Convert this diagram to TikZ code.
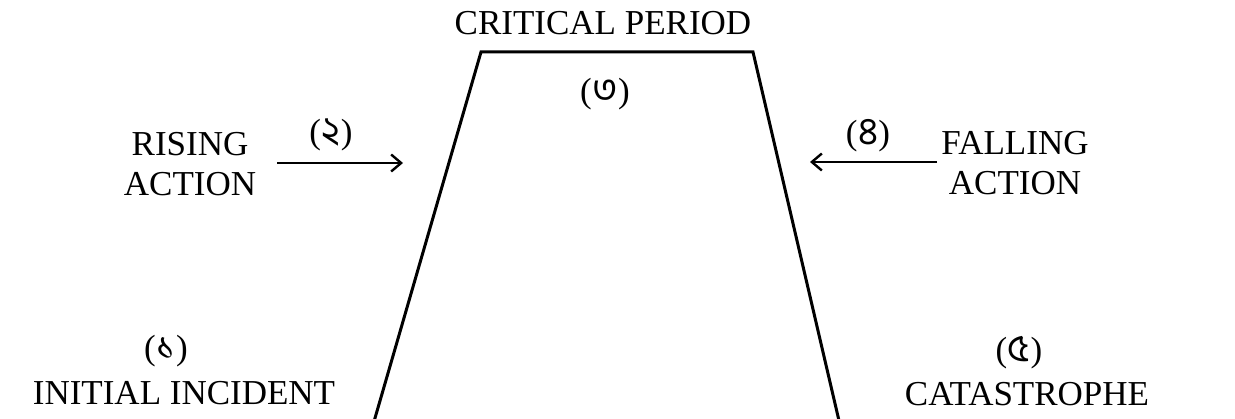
\documentclass[tikz,border=0pt]{standalone}
\usepackage{fontspec}
\setmainfont{Liberation Serif}
\newfontfamily\bnfont[Script=Bengali,Scale=1.1]{Hind Siliguri}
\usetikzlibrary{arrows.meta}
\newcommand{\bnum}[1]{(\kern0.5pt{\bnfont #1}\kern0.5pt)}
\begin{document}
\begin{tikzpicture}[x=1pt,y=-1pt,
  lbl/.style={inner sep=0pt, font=\fontsize{35}{40}\selectfont},
  two/.style={lbl, align=center},
  edge/.style={line width=3pt, line join=miter},
  pointer/.style={line width=2.3pt, -{Straight Barb[length=10pt,width=17pt,line width=2.4pt]}}]
\useasboundingbox (0,0) rectangle (1235,419);
% trapezoid
\coordinate (bl) at (373,425);
\coordinate (tl) at (481,52);
\coordinate (tr) at (753,52);
\coordinate (br) at (840,425);
\draw[edge] (bl) -- (tl) -- (tr) -- (br);
% labels
\node[lbl, anchor=base] (crit) at (603,35) {CRITICAL PERIOD};
\node[lbl] (n3) at (605,94) {\bnum{৩}};
\node[two] (rising) at (190,164) {RISING\\ACTION};
\node[lbl] (n2) at (331,135) {\bnum{২}};
\node[two] (falling) at (1015,163) {FALLING\\ACTION};
\node[lbl] (n4) at (868,136) {\bnum{৪}};
\node[lbl] (n1) at (166,351) {\bnum{১}};
\node[lbl, anchor=base] (initial) at (184,405) {INITIAL INCIDENT};
\node[lbl] (n5) at (1019,353) {\bnum{৫}};
\node[lbl, anchor=base] (cat) at (1027,406) {CATASTROPHE};
% arrows
\coordinate (r1) at (277,163);
\coordinate (r2) at (403,163);
\coordinate (f1) at (937,162);
\coordinate (f2) at (810,162);
\draw[pointer] (r1) -- (r2);
\draw[pointer] (f1) -- (f2);
\end{tikzpicture}
\end{document}
